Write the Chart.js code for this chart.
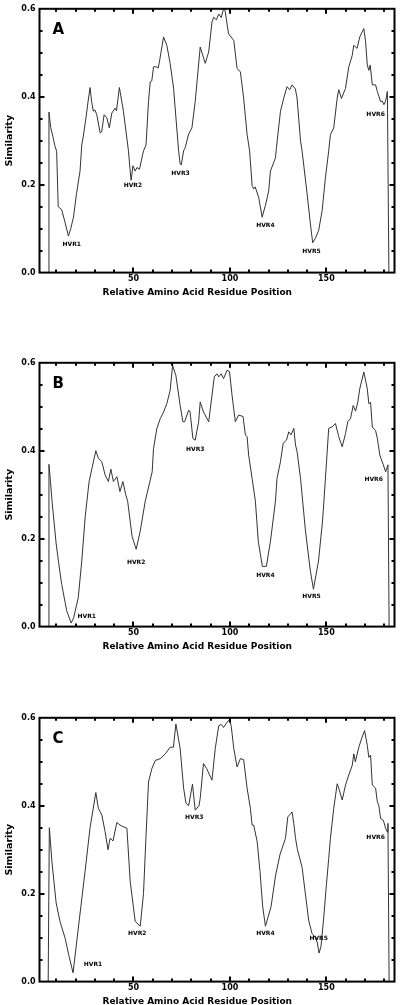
<!DOCTYPE html>
<html>
<head>
<meta charset="utf-8">
<script src="https://cdn.jsdelivr.net/npm/chart.js"></script>
<style>
  html, body { margin: 0; padding: 0; background: #fff; overflow: hidden; }
  .panel { position: absolute; left: 0; width: 400px; height: 298px; }
</style>
</head>
<body>
<div class="panel" style="top:0px"><canvas id="chartA" width="400" height="298"></canvas></div>
<div class="panel" style="top:354px"><canvas id="chartB" width="400" height="298"></canvas></div>
<div class="panel" style="top:709px"><canvas id="chartC" width="400" height="298"></canvas></div>
<script>
// residue position / similarity
const posA = [5.8, 6.2, 7.1, 8.2, 9.3, 10.2, 11.0, 12.8, 14.5, 16.3,
  17.5, 18.9, 20.5, 22.3, 23.2, 24.0, 25.4, 26.5, 27.5, 28.3,
  29.2, 30.0, 31.0, 32.7, 33.5, 34.8, 36.2, 37.5, 38.8, 40.5,
  41.2, 42.7, 44.8, 47.4, 48.3, 48.8, 49.7, 50.9, 51.8, 53.1,
  54.4, 55.2, 56.5, 57.8, 58.7, 59.5, 60.4, 62.0, 62.8, 63.4,
  65.6, 67.3, 69.0, 70.8, 73.4, 74.2, 74.8, 76.0, 76.8, 78.6,
  80.3, 82.0, 84.6, 87.2, 89.0, 90.7, 91.6, 93.0, 94.2, 95.5,
  96.7, 97.5, 99.3, 102.0, 103.7, 105.4, 107.1, 108.9, 110.2, 111.5,
  112.3, 113.1, 114.9, 116.7, 118.4, 120.1, 121.0, 123.6, 124.1, 126.2,
  127.9, 129.6, 131.0, 132.2, 133.9, 134.8, 136.6, 137.4, 140.0, 141.7,
  142.9, 144.3, 146.0, 147.8, 149.5, 151.2, 152.1, 153.8, 155.6, 156.4,
  157.8, 159.9, 161.6, 163.4, 164.2, 165.9, 167.3, 169.4, 170.3, 171.2,
  172.0, 172.7, 173.8, 175.5, 176.4, 178.1, 179.0, 179.8, 180.7, 181.6,
  182.4];
const simA = [0, 0.365, 0.33, 0.31, 0.288, 0.276, 0.15, 0.143, 0.115, 0.083,
  0.1, 0.126, 0.18, 0.231, 0.29, 0.31, 0.352, 0.39, 0.421, 0.39,
  0.367, 0.37, 0.359, 0.318, 0.32, 0.359, 0.352, 0.329, 0.363, 0.374,
  0.368, 0.421, 0.367, 0.277, 0.231, 0.21, 0.243, 0.231, 0.239, 0.235,
  0.261, 0.277, 0.29, 0.389, 0.434, 0.436, 0.468, 0.468, 0.465, 0.478,
  0.536, 0.517, 0.476, 0.419, 0.277, 0.247, 0.245, 0.277, 0.284, 0.315,
  0.329, 0.389, 0.513, 0.476, 0.502, 0.57, 0.581, 0.575, 0.588, 0.58,
  0.6, 0.595, 0.543, 0.528, 0.464, 0.457, 0.397, 0.314, 0.277, 0.198,
  0.19, 0.195, 0.171, 0.126, 0.153, 0.186, 0.231, 0.261, 0.284, 0.367,
  0.397, 0.423, 0.416, 0.427, 0.418, 0.397, 0.299, 0.277, 0.179, 0.111,
  0.068, 0.078, 0.096, 0.141, 0.216, 0.277, 0.314, 0.329, 0.397, 0.416,
  0.396, 0.419, 0.468, 0.494, 0.517, 0.51, 0.536, 0.555, 0.526, 0.472,
  0.46, 0.472, 0.427, 0.427, 0.412, 0.389, 0.39, 0.382, 0.39, 0.412,
  0];

const posB = [5.8, 6.2, 7.0, 7.8, 9.9, 11.1, 12.8, 15.4, 17.7, 19.0,
  21.4, 23.2, 25.0, 27.0, 28.5, 30.5, 31.8, 33.6, 35.3, 37.0,
  38.3, 39.6, 41.4, 43.0, 44.5, 46.0, 47.0, 49.3, 51.4, 53.5,
  56.1, 59.7, 60.4, 62.1, 63.9, 65.6, 67.3, 69.0, 70.3, 72.0,
  74.2, 75.6, 76.5, 78.6, 79.3, 80.8, 82.0, 83.8, 84.6, 86.3,
  89.0, 90.7, 91.9, 93.3, 94.2, 95.5, 96.7, 98.5, 99.8, 101.1,
  102.8, 104.5, 106.8, 108.0, 108.9, 109.7, 111.5, 113.2, 114.7, 116.8,
  118.9, 121.0, 123.6, 124.4, 126.2, 127.6, 129.3, 130.5, 131.7, 133.1,
  134.0, 134.8, 136.6, 139.1, 141.7, 143.3, 145.9, 148.0, 149.5, 151.2,
  152.9, 154.7, 156.4, 158.2, 159.9, 161.1, 162.5, 163.9, 165.1, 166.3,
  167.3, 169.4, 171.2, 172.0, 172.9, 173.8, 175.5, 176.4, 177.7, 179.5,
  180.7, 181.9, 182.5];
const simB = [0, 0.369, 0.33, 0.285, 0.19, 0.149, 0.096, 0.036, 0.008, 0.02,
  0.066, 0.149, 0.25, 0.33, 0.36, 0.4, 0.383, 0.375, 0.345, 0.33,
  0.358, 0.33, 0.341, 0.307, 0.33, 0.3, 0.285, 0.205, 0.176, 0.217,
  0.285, 0.352, 0.405, 0.45, 0.473, 0.488, 0.507, 0.537, 0.594, 0.571,
  0.503, 0.466, 0.466, 0.492, 0.49, 0.428, 0.424, 0.466, 0.511, 0.488,
  0.466, 0.526, 0.568, 0.575, 0.568, 0.575, 0.564, 0.583, 0.58, 0.526,
  0.466, 0.481, 0.478, 0.436, 0.432, 0.39, 0.337, 0.285, 0.194, 0.137,
  0.137, 0.194, 0.285, 0.337, 0.375, 0.417, 0.424, 0.443, 0.436, 0.451,
  0.413, 0.398, 0.337, 0.22, 0.126, 0.085, 0.149, 0.24, 0.337, 0.451,
  0.454, 0.462, 0.432, 0.409, 0.439, 0.466, 0.473, 0.503, 0.49, 0.511,
  0.541, 0.579, 0.541, 0.507, 0.51, 0.454, 0.446, 0.428, 0.39, 0.368,
  0.352, 0.368, 0];

const posC = [5.8, 6.4, 7.8, 9.9, 11.9, 14.5, 16.5, 18.7, 21.2, 24.9,
  27.5, 30.5, 31.8, 33.6, 35.3, 36.8, 37.9, 39.4, 41.4, 43.0,
  44.8, 46.6, 48.3, 50.9, 53.5, 55.2, 56.5, 57.8, 59.5, 61.3,
  63.9, 66.5, 69.0, 70.7, 72.0, 74.2, 76.0, 77.2, 78.6, 80.6,
  82.0, 84.0, 84.6, 86.3, 88.0, 90.7, 92.4, 94.2, 95.5, 96.7,
  98.5, 99.9, 100.7, 102.0, 103.7, 105.4, 107.1, 108.9, 110.6, 111.5,
  112.3, 114.1, 115.6, 117.0, 118.4, 121.3, 123.6, 126.0, 128.8, 130.0,
  131.2, 132.2, 133.1, 134.0, 135.0, 137.4, 139.1, 140.8, 142.5, 144.2,
  145.2, 146.2, 147.2, 148.5, 150.0, 151.2, 152.1, 153.8, 155.6, 156.4,
  158.2, 159.9, 161.6, 163.4, 164.2, 165.0, 166.8, 168.2, 169.8, 171.2,
  172.0, 172.9, 173.8, 175.5, 176.4, 177.2, 178.1, 179.5, 180.7, 181.6,
  181.9, 182.5];
const simC = [0, 0.35, 0.27, 0.18, 0.137, 0.1, 0.06, 0.02, 0.114, 0.25,
  0.35, 0.43, 0.394, 0.379, 0.341, 0.3, 0.326, 0.32, 0.362, 0.356,
  0.352, 0.349, 0.228, 0.137, 0.126, 0.2, 0.33, 0.454, 0.484, 0.503,
  0.507, 0.518, 0.533, 0.533, 0.586, 0.53, 0.44, 0.406, 0.4, 0.449,
  0.39, 0.4, 0.417, 0.496, 0.484, 0.458, 0.53, 0.582, 0.585, 0.578,
  0.59, 0.596, 0.58, 0.53, 0.488, 0.507, 0.505, 0.44, 0.394, 0.356,
  0.356, 0.319, 0.25, 0.17, 0.126, 0.17, 0.24, 0.29, 0.326, 0.375,
  0.38, 0.386, 0.36, 0.326, 0.3, 0.26, 0.2, 0.14, 0.11, 0.1,
  0.09, 0.065, 0.08, 0.14, 0.22, 0.28, 0.326, 0.394, 0.45, 0.44,
  0.413, 0.447, 0.47, 0.492, 0.518, 0.5, 0.533, 0.552, 0.571, 0.537,
  0.51, 0.515, 0.447, 0.44, 0.409, 0.4, 0.371, 0.367, 0.349, 0.34,
  0.36, 0];

// hypervariable region labels (residue, similarity where the label sits)
const hvrNames = ['HVR1', 'HVR2', 'HVR3', 'HVR4', 'HVR5', 'HVR6'];
const hvrPosA = [18, 49.7, 74.4, 118.4, 142.3, 175.5];
const hvrSimA = [0.064, 0.199, 0.225, 0.107, 0.047, 0.359];
const hvrPosB = [25.8, 51.4, 82, 118.4, 142.3, 174.5];
const hvrSimB = [0.022, 0.146, 0.404, 0.117, 0.069, 0.334];
const hvrPosC = [29, 52, 81.5, 118.4, 146, 175.5];
const hvrSimC = [0.04, 0.11, 0.373, 0.11, 0.099, 0.328];

const xTickLabels = [50, 100, 150];
const yTickLabels = [0, 0.2, 0.4, 0.6];

const FONT = 'DejaVu Sans';

// frame, inward tick marks, panel letter and HVR labels
const frameTicks = {
  id: 'frameTicks',
  afterDatasetsDraw(chart, args, opts) {
    const { ctx, chartArea: a, scales: { x, y } } = chart;
    ctx.save();
    ctx.strokeStyle = '#000';
    ctx.lineWidth = 2;
    ctx.strokeRect(a.left, a.top, a.right - a.left, a.bottom - a.top);
    ctx.beginPath();
    for (let v = 10; v <= 180; v += 10) {
      const px = Math.round(x.getPixelForValue(v));
      const len = v % 50 === 0 ? 5 : 3;
      ctx.moveTo(px, a.bottom); ctx.lineTo(px, a.bottom - len);
      ctx.moveTo(px, a.top); ctx.lineTo(px, a.top + len);
    }
    for (let i = 1; i < 12; i++) {
      const py = Math.round(y.getPixelForValue(i * 0.05));
      const len = i % 4 === 0 ? 5 : 3;
      ctx.moveTo(a.left, py); ctx.lineTo(a.left + len, py);
      ctx.moveTo(a.right, py); ctx.lineTo(a.right - len, py);
    }
    ctx.stroke();

    ctx.fillStyle = '#000';
    ctx.font = 'bold 15px "' + FONT + '"';
    ctx.textAlign = 'left';
    ctx.textBaseline = 'alphabetic';
    ctx.fillText(opts.letter, a.left + 13, a.top + 25);

    ctx.font = 'bold 6px "' + FONT + '"';
    ctx.textAlign = 'center';
    ctx.textBaseline = 'middle';
    opts.hvrPos.forEach((p, i) => {
      ctx.fillText(hvrNames[i], x.getPixelForValue(p), y.getPixelForValue(opts.hvrSim[i]));
    });
    ctx.restore();
  }
};

function buildChart(id, letter, pos, sim, hvrPos, hvrSim) {
  const ctx = document.getElementById(id);
  return new Chart(ctx, {
    type: 'line',
    data: {
      datasets: [{
        data: pos.map((p, i) => ({ x: p, y: sim[i] })),
        borderColor: '#333',
        borderWidth: 1,
        pointRadius: 0,
        tension: 0,
        fill: false
      }]
    },
    options: {
      responsive: false,
      animation: false,
      events: [],
      layout: { padding: { left: 0, right: 5.5, top: 6.5, bottom: 0 } },
      plugins: {
        legend: { display: false },
        tooltip: { enabled: false },
        title: {
          display: true,
          position: 'bottom',
          text: 'Relative Amino Acid Residue Position',
          color: '#000',
          font: { family: FONT, weight: 'bold', size: 9 },
          padding: { top: 4.6, bottom: 0 }
        },
        frameTicks: { letter: letter, hvrPos: hvrPos, hvrSim: hvrSim }
      },
      scales: {
        x: {
          type: 'linear',
          min: 1.3,
          max: 185.3,
          grid: { display: false, drawTicks: false },
          border: { display: false },
          ticks: {
            color: '#000',
            padding: 2,
            maxRotation: 0,
            autoSkip: false,
            font: { family: FONT, weight: 'bold', size: 8 }
          },
          afterBuildTicks: s => { s.ticks = xTickLabels.map(v => ({ value: v })); },
          afterFit: s => { s.height = 10; }
        },
        y: {
          min: 0,
          max: 0.6,
          grid: { display: false, drawTicks: false },
          border: { display: false },
          ticks: {
            color: '#000',
            padding: 4,
            font: { family: FONT, weight: 'bold', size: 8 },
            callback: v => v.toFixed(1)
          },
          title: {
            display: true,
            text: 'Similarity',
            color: '#000',
            font: { family: FONT, weight: 'bold', size: 9.5 },
            padding: { top: 4, bottom: 0 }
          },
          afterBuildTicks: s => { s.ticks = yTickLabels.map(v => ({ value: v })); },
          afterFit: s => { s.width = 39.5; }
        }
      }
    },
    plugins: [frameTicks]
  });
}

buildChart('chartA', 'A', posA, simA, hvrPosA, hvrSimA);
buildChart('chartB', 'B', posB, simB, hvrPosB, hvrSimB);
buildChart('chartC', 'C', posC, simC, hvrPosC, hvrSimC);
</script>
</body>
</html>
